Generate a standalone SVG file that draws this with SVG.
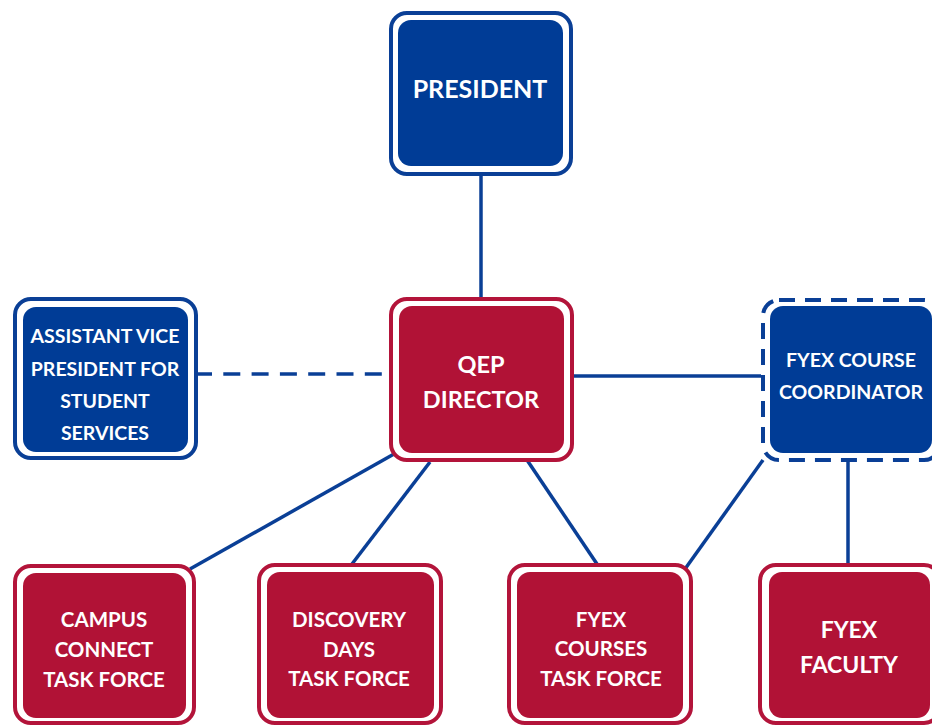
<svg xmlns="http://www.w3.org/2000/svg" width="932" height="726" viewBox="0 0 932 726">
<style>
.ob{fill:#ffffff;stroke:#0a3f96;stroke-width:4}
.or{fill:#ffffff;stroke:#b3143a;stroke-width:4}
.od{fill:#ffffff;stroke:#0a3f96;stroke-width:4;stroke-dasharray:16 10}
.fb{fill:#003c96}
.fr{fill:#b11236}
.t{fill:#ffffff;font-family:Lato,"Liberation Sans",sans-serif;font-weight:bold;text-anchor:middle}
.c{stroke:#0a3f96;stroke-width:3.5;fill:none}
</style>
<rect width="932" height="726" fill="#ffffff"/>
<g id="connectors">
<line class="c" x1="481" y1="176" x2="481" y2="297"/>
<line class="c" x1="195" y1="374" x2="389" y2="374" stroke-dasharray="17 11.3"/>
<line class="c" x1="573" y1="376" x2="761" y2="376"/>
<line class="c" x1="394" y1="454" x2="190" y2="569"/>
<line class="c" x1="430" y1="462" x2="352" y2="564"/>
<line class="c" x1="527" y1="460" x2="597" y2="564"/>
<line class="c" x1="763" y1="460" x2="685" y2="569"/>
<line class="c" x1="848" y1="462" x2="848" y2="563"/>
</g>
<g id="president">
<rect class="ob" x="391" y="13" width="180" height="161" rx="16"/>
<rect class="fb" x="398" y="20" width="165" height="146" rx="13"/>
<text class="t" x="480" y="98" font-size="25">PRESIDENT</text>
</g>
<g id="avp">
<rect class="ob" x="15" y="299" width="181" height="159" rx="16"/>
<rect class="fb" x="23" y="307" width="165" height="145" rx="13"/>
<text class="t" x="105" y="343" font-size="19.5">ASSISTANT VICE</text>
<text class="t" x="105" y="376" font-size="19.5">PRESIDENT FOR</text>
<text class="t" x="105" y="408" font-size="19.5">STUDENT</text>
<text class="t" x="105" y="440" font-size="19.5">SERVICES</text>
</g>
<g id="qep">
<rect class="or" x="391" y="299" width="181" height="161" rx="16"/>
<rect class="fr" x="399" y="306" width="165" height="147" rx="13"/>
<text class="t" x="481" y="373" font-size="23.5">QEP</text>
<text class="t" x="481" y="408" font-size="23.5">DIRECTOR</text>
</g>
<g id="coordinator">
<rect class="od" x="763" y="300" width="177" height="160" rx="16"/>
<rect class="fb" x="770" y="306" width="162" height="147" rx="13"/>
<text class="t" x="851" y="367" font-size="19.5">FYEX COURSE</text>
<text class="t" x="851" y="399" font-size="19.5">COORDINATOR</text>
</g>
<g id="campus">
<rect class="or" x="15" y="566" width="179" height="157" rx="16"/>
<rect class="fr" x="23" y="573" width="163" height="145" rx="13"/>
<text class="t" x="104" y="627" font-size="20.5">CAMPUS</text>
<text class="t" x="104" y="657" font-size="20.5">CONNECT</text>
<text class="t" x="104" y="687" font-size="20.5">TASK FORCE</text>
</g>
<g id="discovery">
<rect class="or" x="259" y="565" width="182" height="158" rx="16"/>
<rect class="fr" x="267" y="572" width="167" height="146" rx="13"/>
<text class="t" x="349" y="627" font-size="20.5">DISCOVERY</text>
<text class="t" x="349" y="657" font-size="20.5">DAYS</text>
<text class="t" x="349" y="686" font-size="20.5">TASK FORCE</text>
</g>
<g id="fyexcourses">
<rect class="or" x="509" y="565" width="182" height="158" rx="16"/>
<rect class="fr" x="517" y="572" width="166" height="146" rx="13"/>
<text class="t" x="601" y="627" font-size="20.5">FYEX</text>
<text class="t" x="601" y="656" font-size="20.5">COURSES</text>
<text class="t" x="601" y="686" font-size="20.5">TASK FORCE</text>
</g>
<g id="faculty">
<rect class="or" x="760" y="565" width="180" height="158" rx="16"/>
<rect class="fr" x="769" y="572" width="161" height="146" rx="13"/>
<text class="t" x="849" y="638" font-size="23">FYEX</text>
<text class="t" x="849" y="673" font-size="23">FACULTY</text>
</g>
</svg>
